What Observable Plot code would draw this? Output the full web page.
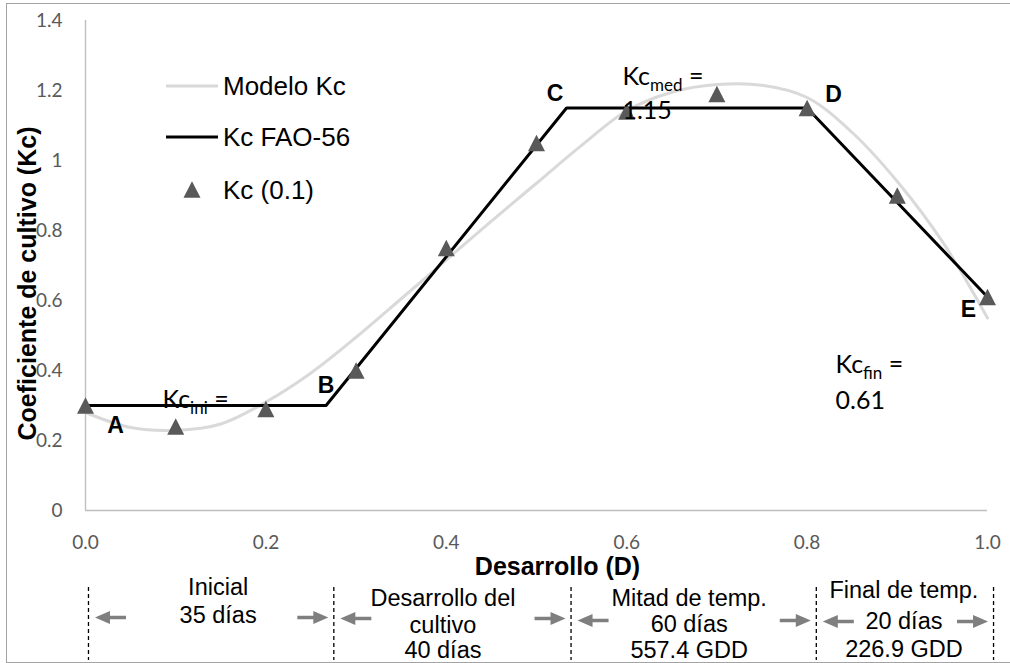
<!DOCTYPE html>
<html><head><meta charset="utf-8">
<script src="https://cdn.jsdelivr.net/npm/d3@7"></script>
<script src="https://cdn.jsdelivr.net/npm/@observablehq/plot@0.6"></script>
<style>
html,body{margin:0;padding:0;background:#fff;}
#wrap{position:relative;width:1010px;height:663px;overflow:hidden;background:#fff;}
#main{position:absolute;left:0;top:0;}
#stages{position:absolute;left:0;top:575px;}
#legend{position:absolute;left:0;top:0;}
#frame{position:absolute;left:6px;top:3px;width:1020px;height:660px;border:1.5px solid #a3a3a3;box-sizing:border-box;pointer-events:none;}
</style></head><body>
<div id="wrap"><div id="main"></div><div id="stages"></div><svg id="legend" width="400" height="240"></svg><div id="frame"></div></div>
<script>
// ---------- data ----------
const desarrollo = [0.0, 0.1, 0.2, 0.3, 0.4, 0.5, 0.6, 0.7, 0.8, 0.9, 1.0];
const kcMedido   = [0.30, 0.24, 0.29, 0.40, 0.75, 1.05, 1.14, 1.19, 1.15, 0.90, 0.61];

const modeloD  = [0, 0.05, 0.1, 0.15, 0.2, 0.25, 0.3, 0.35, 0.4, 0.45, 0.5, 0.55, 0.6, 0.65, 0.7, 0.75, 0.8, 0.85, 0.9, 0.95, 1.0];
const modeloKc = [0.28, 0.237, 0.229, 0.247, 0.31, 0.393, 0.495, 0.605, 0.716, 0.827, 0.935, 1.043, 1.142, 1.195, 1.217, 1.215, 1.18, 1.08, 0.94, 0.768, 0.55];

const faoD      = [0, 0.2667, 0.5333, 0.8, 1.0];
const faoKc     = [0.30, 0.30, 1.15, 1.15, 0.61];
const faoLetter = ["A", "B", "C", "D", "E"];

const kcIni = 0.30, kcMed = 1.15, kcFin = 0.61;

const seriesNames = ["Modelo Kc", "Kc FAO-56", "Kc (0.1)"];

const xTicks = [0, 0.2, 0.4, 0.6, 0.8, 1.0];
const xTickLabels = ["0.0", "0.2", "0.4", "0.6", "0.8", "1.0"];
const yTicks = [0, 0.2, 0.4, 0.6, 0.8, 1.0, 1.2, 1.4];
const yTickLabels = ["0", "0.2", "0.4", "0.6", "0.8", "1", "1.2", "1.4"];

const xTitle = "Desarrollo (D)";
const yTitle = "Coeficiente de cultivo (Kc)";

const stageText = [
  "Inicial\n35 días",
  "Desarrollo del\ncultivo\n40 días",
  "Mitad de temp.\n60 días\n557.4 GDD",
  "Final de temp.\n20 días\n226.9 GDD"
];
const stageBounds = [0.0033, 0.2753, 0.5383, 0.8102, 1.0067];

// ---------- layout / style ----------
const ARIAL = "'Liberation Sans', Arial, sans-serif";
const CALIBRI = "Lato, 'Open Sans', sans-serif";
const GRAY_TEXT = "#595959";
const MARK_GRAY = "#595959";
const tri = {draw(c){ c.moveTo(0,-8.3); c.lineTo(8.5,8.3); c.lineTo(-8.5,8.3); c.closePath(); }};
const arrowLeft = {draw(c){ c.moveTo(0,0); c.lineTo(15,-6.5); c.lineTo(15,-1.8); c.lineTo(31,-1.8); c.lineTo(31,1.8); c.lineTo(15,1.8); c.lineTo(15,6.5); c.closePath(); }};
const arrowRight = {draw(c){ c.moveTo(0,0); c.lineTo(-15,-6.5); c.lineTo(-15,-1.8); c.lineTo(-31,-1.8); c.lineTo(-31,1.8); c.lineTo(-15,1.8); c.lineTo(-15,6.5); c.closePath(); }};

const medido = desarrollo.map((d, i) => ({d, kc: kcMedido[i]}));
const modelo = modeloD.map((d, i) => ({d, kc: modeloKc[i]}));
const fao = faoD.map((d, i) => ({d, kc: faoKc[i], letter: faoLetter[i]}));
const letterOffset = {A: [30, 20], B: [0, -20], C: [-11.5, -14.5], D: [26.5, -13], E: [-19, 13]};

const main = Plot.plot({
  width: 1010, height: 575,
  marginTop: 20, marginBottom: 65, marginLeft: 85, marginRight: 23,
  style: {background: "transparent", overflow: "visible"},
  x: {domain: [0, 1], axis: null},
  y: {domain: [0, 1.4], axis: null},
  marks: [
    Plot.ruleX([0], {y1: 0, y2: 1.4, stroke: "#bfbfbf", strokeWidth: 1.4}),
    Plot.ruleY([0], {x1: 0, x2: 1, stroke: "#bfbfbf", strokeWidth: 1.4}),
    Plot.text(xTicks, {x: d => d, text: (d, i) => xTickLabels[i], frameAnchor: "bottom", dy: 32, textAnchor: "middle", lineAnchor: "middle", fontFamily: CALIBRI, fontSize: 19, fill: GRAY_TEXT}),
    Plot.text(yTicks, {y: d => d, text: (d, i) => yTickLabels[i], frameAnchor: "left", dx: -23, textAnchor: "end", lineAnchor: "middle", fontFamily: CALIBRI, fontSize: 19, fill: GRAY_TEXT}),
    Plot.text([xTitle], {text: d => d, frameAnchor: "bottom", dx: 21, dy: 56, textAnchor: "middle", lineAnchor: "middle", fontFamily: ARIAL, fontWeight: "bold", fontSize: 25, fill: "#000"}),
    Plot.text([yTitle], {text: d => d, frameAnchor: "left", dx: -58, dy: 18, rotate: -90, textAnchor: "middle", lineAnchor: "middle", fontFamily: ARIAL, fontWeight: "bold", fontSize: 25, fill: "#000"}),
    Plot.line(modelo, {x: "d", y: "kc", stroke: "#d9d9d9", strokeWidth: 3, curve: "catmull-rom"}),
    Plot.line(fao, {x: "d", y: "kc", stroke: "#000", strokeWidth: 3, strokeLinejoin: "miter"}),
    Plot.dot(medido, {x: "d", y: "kc", symbol: tri, fill: MARK_GRAY, stroke: "none"}),
    ...fao.map(p => Plot.text([p], {x: "d", y: "kc", text: "letter", dx: letterOffset[p.letter][0], dy: letterOffset[p.letter][1], textAnchor: "middle", lineAnchor: "middle", fontFamily: ARIAL, fontWeight: "bold", fontSize: 23, fill: "#000"})),
    Plot.text([kcIni], {x: () => 0.0854, y: d => d, text: () => "Kc_ini =", dy: -6, textAnchor: "start", lineAnchor: "middle", fontFamily: CALIBRI, fontSize: 25, fill: "#000"}),
    Plot.text([kcMed], {x: () => 0.5953, y: d => d, text: () => "Kc_med =", dy: -31.5, textAnchor: "start", lineAnchor: "middle", fontFamily: CALIBRI, fontSize: 25, fill: "#000"}),
    Plot.text([kcMed], {x: () => 0.5953, y: d => d, text: d => d.toFixed(2), dy: 2.5, textAnchor: "start", lineAnchor: "middle", fontFamily: CALIBRI, fontSize: 25, fill: "#000"}),
    Plot.text([kcFin], {x: () => 0.8315, y: () => 0.417, text: () => "Kc_fin =", textAnchor: "start", lineAnchor: "middle", fontFamily: CALIBRI, fontSize: 25, fill: "#000"}),
    Plot.text([kcFin], {x: () => 0.8315, y: () => 0.314, text: d => d.toFixed(2), textAnchor: "start", lineAnchor: "middle", fontFamily: CALIBRI, fontSize: 25, fill: "#000"})
  ]
});
// subscripts for Kc labels
d3.select(main).selectAll("text").each(function() {
  const m = (this.textContent || "").match(/^Kc_(\w+)( =)$/);
  if (!m) return;
  const s = d3.select(this);
  s.text(null);
  s.append("tspan").text("Kc");
  s.append("tspan").attr("font-size", 17).attr("dy", 6).text(m[1]);
  s.append("tspan").attr("dy", -6).text(m[2]);
});
document.getElementById("main").appendChild(main);

// ---------- stage band ----------
const stageLineCenters = [[12, 40], [23, 50, 75], [23, 49, 75], [15, 46, 74]];
const stageDx = [7, -9.5, -4.5, -1];
const arrowY = [42, 43, 45, 46];
const stageMarks = [];
stageText.forEach((t, i) => {
  const mid = (stageBounds[i] + stageBounds[i + 1]) / 2;
  t.split("\n").forEach((line, j) => {
    stageMarks.push(Plot.text([line], {x: () => mid, text: d => d, frameAnchor: "top", dx: stageDx[i], dy: stageLineCenters[i][j], textAnchor: "middle", lineAnchor: "middle", fontFamily: ARIAL, fontSize: 23.5, fill: "#000"}));
  });
  stageMarks.push(Plot.dot([stageBounds[i]], {x: d => d, frameAnchor: "top", dx: 6.5, dy: arrowY[i], symbol: arrowLeft, fill: "#7f7f7f", stroke: "none"}));
  stageMarks.push(Plot.dot([stageBounds[i + 1]], {x: d => d, frameAnchor: "top", dx: -5.5, dy: arrowY[i], symbol: arrowRight, fill: "#7f7f7f", stroke: "none"}));
});
const stages = Plot.plot({
  width: 1010, height: 88,
  marginTop: 0, marginBottom: 0, marginLeft: 85, marginRight: 23,
  style: {background: "transparent", overflow: "visible"},
  x: {domain: [0, 1], axis: null},
  marks: [
    Plot.ruleX(stageBounds, {x: d => d, stroke: "#000", strokeWidth: 1.3, strokeDasharray: "4,3", insetTop: 12, insetBottom: 3}),
    ...stageMarks
  ]
});
document.getElementById("stages").appendChild(stages);

// ---------- legend ----------
const lg = d3.select("#legend");
const rows = [86, 137, 189.5];
seriesNames.forEach((name, i) => {
  if (i === 0) lg.append("line").attr("x1", 166).attr("x2", 218).attr("y1", rows[i]).attr("y2", rows[i]).attr("stroke", "#d9d9d9").attr("stroke-width", 3);
  if (i === 1) lg.append("line").attr("x1", 166).attr("x2", 218).attr("y1", rows[i]).attr("y2", rows[i]).attr("stroke", "#000").attr("stroke-width", 3);
  if (i === 2) lg.append("path").attr("d", "M0,-8.3L8.5,8.3L-8.5,8.3Z").attr("transform", `translate(192,${rows[i]})`).attr("fill", MARK_GRAY);
  lg.append("text").attr("x", 223).attr("y", rows[i]).attr("dy", "0.35em").attr("font-family", ARIAL).attr("font-size", 26).attr("fill", "#000").text(name);
});
</script>
</body></html>
